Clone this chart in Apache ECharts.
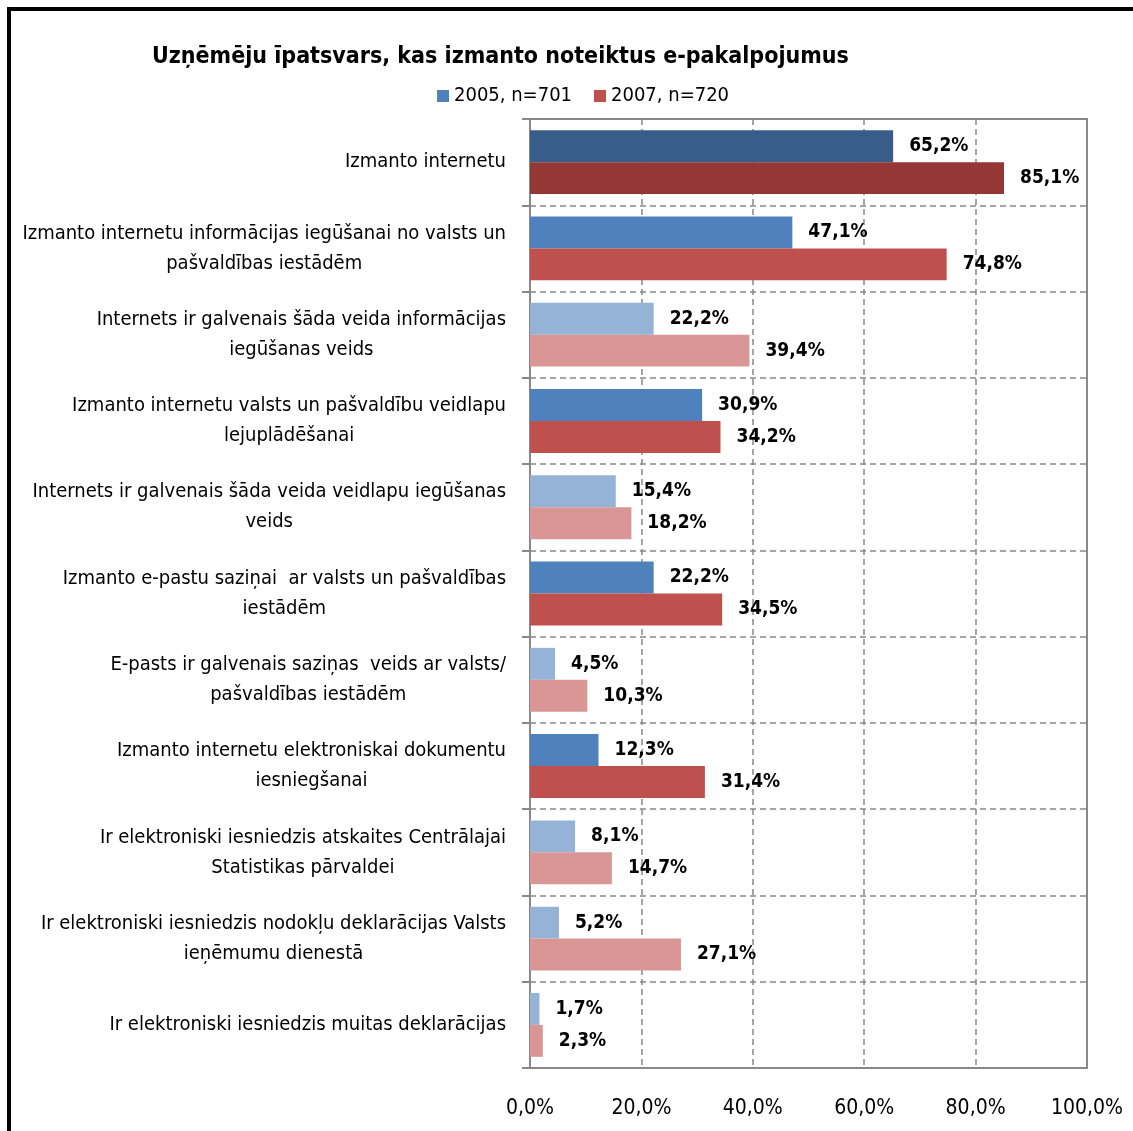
<!DOCTYPE html>
<html>
<head>
<meta charset="utf-8">
<script src="https://cdn.jsdelivr.net/npm/echarts@6/dist/echarts.min.js"></script>
<style>
  html, body { margin: 0; padding: 0; background: #fff; }
  #chart { width: 1133px; height: 1131px; }
</style>
</head>
<body>
<div id="chart"></div>
<script>
const categories = [
  'Izmanto internetu',
  'Izmanto internetu informācijas iegūšanai no valsts un\npašvaldības iestādēm',
  'Internets ir galvenais šāda veida informācijas\niegūšanas veids',
  'Izmanto internetu valsts un pašvaldību veidlapu\nlejuplādēšanai',
  'Internets ir galvenais šāda veida veidlapu iegūšanas\nveids',
  'Izmanto e-pastu saziņai  ar valsts un pašvaldības\niestādēm',
  'E-pasts ir galvenais saziņas  veids ar valsts/\npašvaldības iestādēm',
  'Izmanto internetu elektroniskai dokumentu\niesniegšanai',
  'Ir elektroniski iesniedzis atskaites Centrālajai\nStatistikas pārvaldei',
  'Ir elektroniski iesniedzis nodokļu deklarācijas Valsts\nieņēmumu dienestā',
  'Ir elektroniski iesniedzis muitas deklarācijas'
];
const values2005 = [65.2, 47.1, 22.2, 30.9, 15.4, 22.2, 4.5, 12.3, 8.1, 5.2, 1.7];
const values2007 = [85.1, 74.8, 39.4, 34.2, 18.2, 34.5, 10.3, 31.4, 14.7, 27.1, 2.3];
// 0 = dark, 1 = normal, 2 = light
const shade = [0, 1, 2, 1, 2, 1, 2, 1, 2, 2, 2];
const blues = ['#385D8A', '#4F81BD', '#95B3D7'];
const reds = ['#953735', '#C0504D', '#D99694'];

const font = "'Liberation Sans Narrow', 'DejaVu Sans Condensed', 'Arial Narrow', sans-serif";

const chart = echarts.init(document.getElementById('chart'));

function labelCfg() {
  return {
    show: true,
    position: 'right',
    distance: 16,
    color: '#000',
    fontFamily: font,
    fontWeight: 'bold',
    fontSize: 19,
    formatter: (p) => p.value.toFixed(1).replace('.', ',') + '%'
  };
}

chart.setOption({
  animation: false,
  textStyle: { fontFamily: font },
  title: {
    text: 'Uzņēmēju īpatsvars, kas izmanto noteiktus e-pakalpojumus',
    left: 147,
    top: 41,
    textStyle: { fontFamily: font, fontWeight: 'bold', fontSize: 23, color: '#000' }
  },
  legend: {
    left: 432,
    top: 81,
    itemWidth: 12,
    itemHeight: 12,
    itemGap: 22,
    icon: 'rect',
    textStyle: { fontFamily: font, fontSize: 20, color: '#000' },
    data: ['2005, n=701', '2007, n=720']
  },
  grid: {
    left: 530,
    right: 46,
    top: 119,
    bottom: 63,
    show: true,
    borderColor: '#888',
    borderWidth: 2
  },
  xAxis: {
    type: 'value',
    min: 0,
    max: 100,
    interval: 20,
    axisLine: { show: true, lineStyle: { color: '#888', width: 2 } },
    axisTick: { show: false },
    axisLabel: {
      margin: 30,
      color: '#000',
      fontFamily: font,
      fontSize: 21,
      formatter: (v) => v.toFixed(1).replace('.', ',') + '%'
    },
    splitLine: { show: true, lineStyle: { color: '#888', type: [6, 4], width: 1.5 } }
  },
  yAxis: {
    type: 'category',
    inverse: true,
    data: categories,
    axisLine: { show: true, lineStyle: { color: '#888', width: 2 } },
    axisTick: { show: true, length: 8, lineStyle: { color: '#888', width: 2 } },
    splitLine: { show: true, lineStyle: { color: '#888', type: [6, 4], width: 1.5 } },
    axisLabel: {
      margin: 24,
      color: '#000',
      fontFamily: font,
      fontSize: 20,
      lineHeight: 30,
      formatter: (v) => v.split('\n').map((s) => '{c|' + s + '}').join('\n'),
      rich: {
        c: { align: 'center', fontFamily: font, fontSize: 20, lineHeight: 30, color: '#000' }
      }
    }
  },
  series: [
    {
      name: '2005, n=701',
      type: 'bar',
      barGap: '0%',
      barCategoryGap: '26%',
      itemStyle: { color: blues[1] },
      label: labelCfg(),
      data: values2005.map((v, i) => ({ value: v, itemStyle: { color: blues[shade[i]] } }))
    },
    {
      name: '2007, n=720',
      type: 'bar',
      barGap: '0%',
      barCategoryGap: '26%',
      itemStyle: { color: reds[1] },
      label: labelCfg(),
      data: values2007.map((v, i) => ({ value: v, itemStyle: { color: reds[shade[i]] } }))
    }
  ],
  graphic: [
    {
      type: 'rect',
      shape: { x: 9, y: 9, width: 1300, height: 1300 },
      style: { fill: 'none', stroke: '#000', lineWidth: 4 },
      silent: true
    }
  ]
});
</script>
</body>
</html>
